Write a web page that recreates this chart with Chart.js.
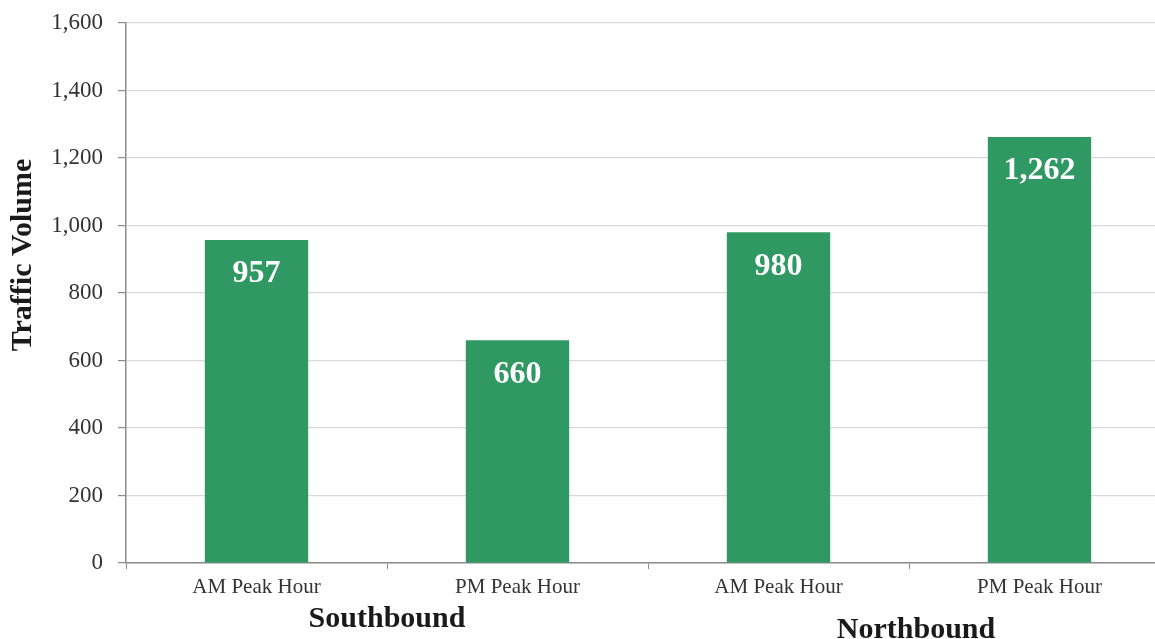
<!DOCTYPE html>
<html>
<head>
<meta charset="utf-8">
<script src="https://cdn.jsdelivr.net/npm/chart.js@4/dist/chart.umd.min.js"></script>
<style>
  html, body { margin: 0; padding: 0; background: #fff; overflow: hidden; }
</style>
</head>
<body>
<canvas id="volChart" width="1170" height="639"></canvas>
<script>
const periods = ['AM Peak Hour', 'PM Peak Hour', 'AM Peak Hour', 'PM Peak Hour'];
const directions = ['Southbound', 'Northbound'];
const volumes = [957, 660, 980, 1262];
const yTicks = [0, 200, 400, 600, 800, 1000, 1200, 1400, 1600];

const SERIF = '"Liberation Serif", "Times New Roman", serif';
const fmt = v => v.toLocaleString('en-US');

// white value labels near the top of each bar
const valueLabels = {
    id: 'valueLabels',
    afterDatasetsDraw(chart) {
        const ctx = chart.ctx;
        const meta = chart.getDatasetMeta(0);
        ctx.save();
        ctx.fillStyle = '#ffffff';
        ctx.font = 'bold 32px ' + SERIF;
        ctx.textAlign = 'center';
        ctx.textBaseline = 'middle';
        meta.data.forEach((bar, i) => {
            ctx.fillText(fmt(volumes[i]), bar.x, bar.y + 34);
        });
        ctx.restore();
    }
};

// direction group labels under the categories, and the y axis title
const extraText = {
    id: 'extraText',
    afterDraw(chart) {
        const ctx = chart.ctx;
        const x = chart.scales.x;
        const bottom = chart.chartArea.bottom;
        ctx.save();
        ctx.fillStyle = '#1a1a1a';
        ctx.font = 'bold 30px ' + SERIF;
        ctx.textAlign = 'center';
        ctx.textBaseline = 'middle';
        directions.forEach((d, g) => {
            const cx = (x.getPixelForValue(g * 2) + x.getPixelForValue(g * 2 + 1)) / 2;
            ctx.fillText(d, cx + g * 7, bottom + 56 + g * 11);
        });
        ctx.translate(23, 255);
        ctx.rotate(-Math.PI / 2);
        ctx.fillText('Traffic Volume', 0, 0);
        ctx.restore();
    }
};

new Chart(document.getElementById('volChart'), {
    type: 'bar',
    data: {
        labels: periods,
        datasets: [{
            data: volumes,
            backgroundColor: '#2f9863',
            categoryPercentage: 1,
            barPercentage: 0.396
        }]
    },
    options: {
        responsive: false,
        animation: false,
        layout: { padding: { top: 23, right: 0, left: 0, bottom: 0 } },
        plugins: {
            legend: { display: false },
            tooltip: { enabled: false }
        },
        scales: {
            x: {
                offset: true,
                grid: {
                    offset: true,
                    drawOnChartArea: false,
                    tickLength: 6,
                    tickColor: '#8c8c8c'
                },
                border: { color: '#8c8c8c', width: 1.5 },
                ticks: {
                    color: '#333',
                    font: { family: SERIF, size: 21 },
                    padding: 6,
                    maxRotation: 0
                },
                afterFit(scale) { scale.height = 76; }
            },
            y: {
                min: 0,
                max: 1600,
                afterBuildTicks(scale) { scale.ticks = yTicks.map(v => ({ value: v })); },
                grid: {
                    color: '#d9d9d9',
                    lineWidth: 1.2,
                    tickLength: 8,
                    tickColor: '#8c8c8c'
                },
                border: { color: '#8c8c8c', width: 1.5 },
                ticks: {
                    color: '#333',
                    font: { family: SERIF, size: 23, lineHeight: 0.5 },
                    padding: 15,
                    callback: v => fmt(v)
                },
                afterFit(scale) {
                    scale.width = 126;
                    scale.paddingTop = 0;
                    scale.paddingBottom = 0;
                }
            }
        }
    },
    plugins: [valueLabels, extraText]
});
</script>
</body>
</html>
